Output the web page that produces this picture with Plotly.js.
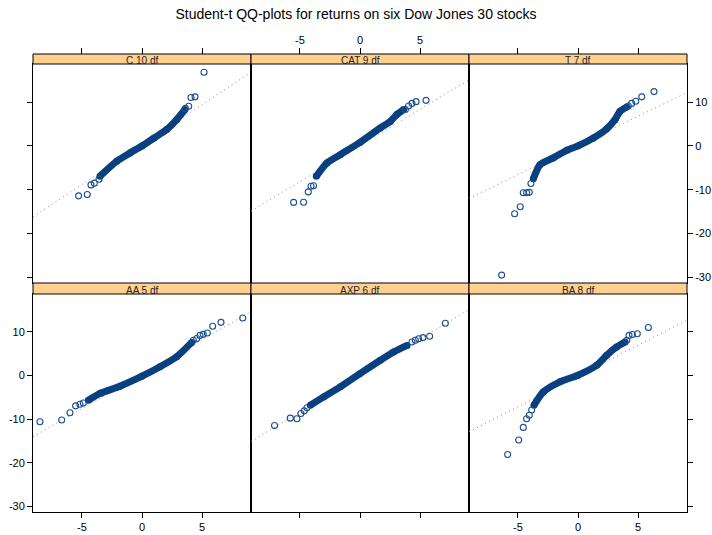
<!DOCTYPE html>
<html>
<head>
<meta charset="utf-8">
<script src="https://cdn.plot.ly/plotly-3.0.1.min.js"></script>
<style>html,body{margin:0;padding:0;background:#fff;}#chart{width:712px;height:535px;}</style>
</head>
<body>
<div id="chart"></div>
<script>
// Panel order: top row C, CAT, T ; bottom row AA, AXP, BA
const panelLabels = ["C 10 df", "CAT 9 df", "T 7 df", "AA 5 df", "AXP 6 df", "BA 8 df"];

// Dense central part of each QQ-plot (read along the band)
const bodyX_C   = [-3.5, -2.11, -1.0, 0, 1.0, 2.06, 2.89, 3.58];
const bodyY_C   = [-6.9, -3.5, -1.6, 0, 1.8, 3.73, 6.0, 8.3];
const bodyX_CAT = [-3.64, -2.75, -1.64, 0, 1.69, 2.53, 3.08, 3.63];
const bodyY_CAT = [-6.95, -3.9, -2.0, 0.8, 4.1, 5.6, 7.2, 8.3];
const bodyX_T   = [-3.72, -3.17, -2.06, -0.94, 0, 1.28, 2.39, 3.08, 3.5, 4.06];
const bodyY_T   = [-7.5, -4.3, -2.75, -1.0, 0, 1.8, 3.9, 6.0, 7.9, 8.9];
const bodyX_AA  = [-4.47, -3.5, -1.83, 0, 1.5, 2.89, 4.14];
const bodyY_AA  = [-5.65, -4.1, -2.45, -0.16, 2.0, 4.3, 7.6];
const bodyX_AXP = [-4.14, -3.03, -1.64, 0, 1.69, 2.8, 3.92];
const bodyY_AXP = [-6.8, -4.9, -2.6, 0.45, 3.5, 5.4, 6.9];
const bodyX_BA  = [-3.67, -2.89, -1.5, 0, 1.56, 2.39, 3.22, 3.92];
const bodyY_BA  = [-6.8, -3.75, -1.45, 0.07, 2.35, 4.65, 6.55, 7.7];

// Individually visible tail points
const tailX_C   = [-5.28, -4.56, -4.25, -3.97, -3.58, 3.61, 3.89, 4.08, 4.42, 5.17];
const tailY_C   = [-11.4, -11.1, -8.9, -8.5, -7.6, 8.6, 9.06, 11.05, 11.2, 16.8];
const tailX_CAT = [-5.53, -4.7, -4.31, -4.08, -3.87, 3.78, 4.05, 4.33, 4.67, 5.5];
const tailY_CAT = [-12.9, -12.85, -10.5, -9.2, -9.1, 8.3, 9.1, 9.7, 10.1, 10.4];
const tailX_T   = [-6.36, -5.28, -4.81, -4.56, -4.28, -4.06, -3.92, 4.19, 4.47, 4.81, 5.31, 6.33];
const tailY_T   = [-29.5, -15.5, -13.9, -10.7, -10.7, -10.6, -8.6, 9.1, 9.7, 10.2, 11.2, 12.4];
const tailX_AA  = [-8.5, -6.69, -6.0, -5.53, -5.17, -4.89, 4.28, 4.56, 4.83, 5.1, 5.44, 5.89, 6.58, 8.39];
const tailY_AA  = [-10.6, -10.2, -8.55, -6.95, -6.57, -6.3, 8.1, 8.5, 9.2, 9.45, 9.75, 11.3, 12.2, 13.2];
const tailX_AXP = [-7.12, -5.81, -5.25, -4.92, -4.64, -4.42, 4.33, 4.61, 4.89, 5.25, 5.8, 7.11];
const tailY_AXP = [-11.45, -9.77, -9.9, -8.7, -8.1, -7.4, 7.7, 8.1, 8.45, 8.7, 9.0, 12.0];
const tailX_BA  = [-5.86, -4.94, -4.56, -4.28, -4.06, -3.86, 4.06, 4.25, 4.53, 4.94, 5.86];
const tailY_BA  = [-18.1, -14.8, -11.9, -9.9, -9.1, -7.9, 8.1, 9.2, 9.4, 9.6, 11.0];

// Reference (dotted) lines: intercept and slope per panel
const refIntercept = [0.3, 0.1, 0.1, 0.31, 0.0, -0.1];
const refSlope     = [1.82, 1.65, 1.33, 1.58, 1.67, 1.41];

const xTicks = [-5, 0, 5];
const yTicks = [-30, -20, -10, 0, 10];
const xRange = [-9.08, 9.08];
const yRange = [-31.3, 18.7];

const bodies = [[bodyX_C, bodyY_C], [bodyX_CAT, bodyY_CAT], [bodyX_T, bodyY_T],
                [bodyX_AA, bodyY_AA], [bodyX_AXP, bodyY_AXP], [bodyX_BA, bodyY_BA]];
const tails = [[tailX_C, tailY_C], [tailX_CAT, tailY_CAT], [tailX_T, tailY_T],
               [tailX_AA, tailY_AA], [tailX_AXP, tailY_AXP], [tailX_BA, tailY_BA]];

const W = 712, H = 535;
const colPx = [[33, 251], [251, 469], [469, 687]];
const rowPx = [[64, 283], [294, 512]];   // plot area top/bottom in px
const stripPx = [[54, 64], [283, 294]];
const px2x = p => p / W;
const px2y = p => (H - p) / H;

const navy = '#0a3f80';
const traces = [];
const layout = {
  width: W, height: H,
  margin: {l: 0, r: 0, t: 0, b: 0},
  paper_bgcolor: '#ffffff', plot_bgcolor: '#ffffff',
  showlegend: false,
  font: {family: 'Liberation Sans, Arial, sans-serif', size: 11, color: '#000000'},
  title: {text: 'Student-t QQ-plots for returns on six Dow Jones 30 stocks',
          x: 0.5, xref: 'paper', xanchor: 'center', y: 1 - 14 / H, yref: 'paper', yanchor: 'middle',
          font: {size: 14, color: '#000000', family: 'Liberation Sans, Arial, sans-serif'}},
  shapes: [], annotations: []
};

for (let i = 0; i < 6; i++) {
  const row = Math.floor(i / 3), col = i % 3;
  const n = i + 1;
  const xa = 'x' + (n === 1 ? '' : n), ya = 'y' + (n === 1 ? '' : n);
  const xk = 'xaxis' + (n === 1 ? '' : n), yk = 'yaxis' + (n === 1 ? '' : n);

  // reference dotted line
  const rx = xRange.slice();
  const ry = rx.map(v => refIntercept[i] + refSlope[i] * v);
  traces.push({x: rx, y: ry, xaxis: xa, yaxis: ya, type: 'scatter', mode: 'lines',
               line: {color: '#8a8a8a', width: 1, dash: '1px,3.5px'}, hoverinfo: 'skip'});
  // dense body
  traces.push({x: bodies[i][0], y: bodies[i][1], xaxis: xa, yaxis: ya, type: 'scatter', mode: 'lines+markers',
               line: {color: navy, width: 7, shape: 'spline', smoothing: 0.6},
               marker: {symbol: 'circle', size: 7, color: navy}, hoverinfo: 'skip'});
  // tail points
  traces.push({x: tails[i][0], y: tails[i][1], xaxis: xa, yaxis: ya, type: 'scatter', mode: 'markers',
               marker: {symbol: 'circle-open', size: 6, color: '#1d4f8f', line: {width: 1.1}}, hoverinfo: 'skip'});

  const isTop = row === 0;
  // x axis
  const xLabelled = isTop ? (col === 1) : (col !== 1);
  layout[xk] = {
    domain: [px2x(colPx[col][0]), px2x(colPx[col][1])],
    anchor: ya, range: xRange, side: isTop ? 'top' : 'bottom',
    showgrid: false, zeroline: false,
    showline: true, mirror: true, linecolor: '#000', linewidth: 1,
    ticks: 'outside', ticklen: isTop ? 15 : 5, tickwidth: 1, tickcolor: '#000',
    tickvals: xTicks, ticktext: xTicks.map(String), showticklabels: xLabelled,
    tickfont: {size: 11, color: '#000000'}, fixedrange: true
  };
  // y axis
  let ySide = 'left', yTicksOn = '', yLab = false;
  if (col === 0) { ySide = 'left'; yTicksOn = 'outside'; yLab = !isTop; }
  if (col === 2) { ySide = 'right'; yTicksOn = 'outside'; yLab = isTop; }
  layout[yk] = {
    domain: [px2y(rowPx[row][1]), px2y(rowPx[row][0])],
    anchor: xa, range: yRange, side: ySide,
    showgrid: false, zeroline: false,
    showline: true, mirror: true, linecolor: '#000', linewidth: 1,
    ticks: yTicksOn, ticklen: 5, tickwidth: 1, tickcolor: '#000',
    tickvals: yTicks, ticktext: yTicks.map(String), showticklabels: yLab,
    tickfont: {size: 11, color: '#000000'}, fixedrange: true
  };

  // strip
  layout.shapes.push({type: 'rect', xref: 'paper', yref: 'paper', layer: 'above',
    x0: px2x(colPx[col][0]), x1: px2x(colPx[col][1]),
    y0: px2y(stripPx[row][1]), y1: px2y(stripPx[row][0]),
    fillcolor: '#ffd08f', line: {color: '#000', width: 1}});
  layout.annotations.push({text: panelLabels[i], xref: 'paper', yref: 'paper', showarrow: false,
    x: px2x((colPx[col][0] + colPx[col][1]) / 2), y: px2y(stripPx[row][1] - 3.5),
    xanchor: 'center', yanchor: 'middle',
    font: {size: 10, color: '#222', family: 'Liberation Sans, Arial, sans-serif'}});
}

Plotly.newPlot('chart', traces, layout, {staticPlot: true, displayModeBar: false});
</script>
</body>
</html>
